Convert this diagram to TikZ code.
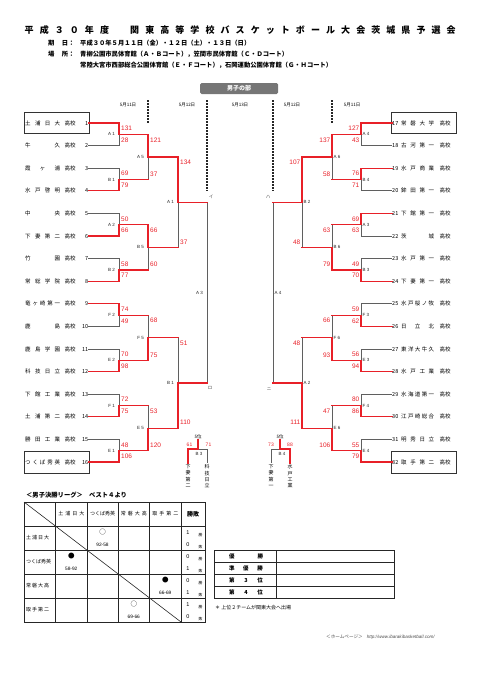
\documentclass[tikz,border=0pt]{standalone}
\usepackage{fontspec}
\setmainfont{Noto Sans CJK JP}
\newfontfamily\latinfont{Liberation Sans}
\usetikzlibrary{calc}

\definecolor{winred}{RGB}{232,32,40}
\definecolor{losegray}{RGB}{95,95,95}
\definecolor{headgray}{RGB}{118,118,118}

\makeatletter
\newcommand\spreadname[2]{\makebox[#1]{\expandafter\@tfor\expandafter\spreadch\expandafter:\expandafter=#2\do{\spreadch\hfill}\unskip}}
\makeatother
\newcommand\leftteam[2]{\spreadname{35pt}{#1}\makebox[20pt]{高校}\makebox[8pt][r]{#2}}
\newcommand\rightteam[2]{\makebox[9pt][l]{#2}\spreadname{33pt}{#1}\makebox[22pt]{高校}}

\tikzset{
  win/.style={draw=winred, line width=1.2pt, line cap=rect},
  lose/.style={draw=losegray, line width=0.7pt},
  team/.style={inner sep=0pt, font=\fontsize{5.5}{6}\selectfont},
  seedbox/.style={draw=black!80, line width=0.9pt},
  score/.style={inner sep=0pt, text=winred, font=\latinfont\fontsize{6.5}{7}\selectfont},
  smallscore/.style={inner sep=0pt, text=winred, font=\latinfont\fontsize{5}{5}\selectfont},
  matchlab/.style={inner sep=0pt, text=black!85, font=\latinfont\fontsize{4.5}{5}\selectfont},
  marktext/.style={inner sep=0pt, text=black!70, font=\fontsize{4.5}{5}\selectfont},
  daytext/.style={inner sep=0pt, font=\fontsize{4.5}{5}\selectfont},
  daysep/.style={draw=black!85, line width=1.3pt, dash pattern=on 2pt off 1pt},
  titletext/.style={inner sep=0pt, font=\bfseries\fontsize{9}{9}\selectfont},
  infotext/.style={inner sep=0pt, font=\bfseries\fontsize{6.3}{7}\selectfont},
  division/.style={fill=headgray, rounded corners=1.5pt, text=white, inner sep=0pt,
    minimum width=78pt, minimum height=11pt, font=\bfseries\fontsize{6}{6}\selectfont},
  vname/.style={inner xsep=0pt, inner ysep=1.5pt, align=center, font=\fontsize{5}{6.3}\selectfont},
  tablegrid/.style={draw=black!85, line width=0.7pt},
  cell/.style={inner sep=0pt, font=\fontsize{5}{5}\selectfont},
  resmark/.style={inner sep=0pt, font=\fontsize{6.5}{6.5}\selectfont},
  resscore/.style={inner sep=0pt, font=\latinfont\fontsize{4.8}{5}\selectfont},
  tinytext/.style={inner sep=0pt, font=\fontsize{3.8}{4}\selectfont},
  ranktext/.style={inner sep=0pt, font=\bfseries\fontsize{5.5}{6}\selectfont},
}

\begin{document}
\begin{tikzpicture}[x=1pt, y=-1pt]
\useasboundingbox (0,0) rectangle (481,680);

\node[titletext, anchor=west] (title) at (24.5,30) {\spreadname{431pt}{平成３０年度　関東高等学校バスケットボール大会茨城県予選会}};
\node[infotext, anchor=west] (datehead) at (48,43) {期\hspace{7.5pt}日：};
\node[infotext, anchor=west] (dates) at (80,43) {平成３０年５月１１日（金）・１２日（土）・１３日（日）};
\node[infotext, anchor=west] (venuehead) at (48,54) {場\hspace{7.5pt}所：};
\node[infotext, anchor=west] (venue1) at (80,54) {青柳公園市民体育館（Ａ・Ｂコート），笠間市民体育館（Ｃ・Ｄコート）};
\node[infotext, anchor=west] (venue2) at (80,65.5) {常陸大宮市西部総合公園体育館（Ｅ・Ｆコート），石岡運動公園体育館（Ｇ・Ｈコート）};

\node[division] (boys) at (239,88.5) {男子の部};
\node[daytext] (dayL1) at (128,104.5) {5月11日};
\node[daytext] (dayL2) at (187,104.5) {5月12日};
\node[daytext] (dayC) at (240,104.5) {5月13日};
\node[daytext] (dayR2) at (292,104.5) {5月12日};
\node[daytext] (dayR1) at (352,104.5) {5月11日};
\coordinate (septop) at (0,100);

\node[team, anchor=west] (t1) at (25,123) {\leftteam{土浦日大}{1}};
\node[team, anchor=west] (t2) at (25,145.6) {\leftteam{牛久}{2}};
\node[team, anchor=west] (t3) at (25,168.2) {\leftteam{霞ヶ浦}{3}};
\node[team, anchor=west] (t4) at (25,190.8) {\leftteam{水戸啓明}{4}};
\node[team, anchor=west] (t5) at (25,213.4) {\leftteam{中央}{5}};
\node[team, anchor=west] (t6) at (25,236) {\leftteam{下妻第二}{6}};
\node[team, anchor=west] (t7) at (25,258.6) {\leftteam{竹園}{7}};
\node[team, anchor=west] (t8) at (25,281.2) {\leftteam{常総学院}{8}};
\node[team, anchor=west] (t9) at (25,303.8) {\leftteam{竜ヶ崎第一}{9}};
\node[team, anchor=west] (t10) at (25,326.4) {\leftteam{鹿島}{10}};
\node[team, anchor=west] (t11) at (25,349) {\leftteam{鹿島学園}{11}};
\node[team, anchor=west] (t12) at (25,371.6) {\leftteam{科技日立}{12}};
\node[team, anchor=west] (t13) at (25,394.2) {\leftteam{下館工業}{13}};
\node[team, anchor=west] (t14) at (25,416.8) {\leftteam{土浦第二}{14}};
\node[team, anchor=west] (t15) at (25,439.4) {\leftteam{勝田工業}{15}};
\node[team, anchor=west] (t16) at (25,462) {\leftteam{つくば秀英}{16}};

\node[team, anchor=west] (t17) at (392,123) {\rightteam{常磐大学}{17}};
\node[team, anchor=west] (t18) at (392,145.6) {\rightteam{古河第一}{18}};
\node[team, anchor=west] (t19) at (392,168.2) {\rightteam{水戸商業}{19}};
\node[team, anchor=west] (t20) at (392,190.8) {\rightteam{鉾田第一}{20}};
\node[team, anchor=west] (t21) at (392,213.4) {\rightteam{下館第一}{21}};
\node[team, anchor=west] (t22) at (392,236) {\rightteam{茨城}{22}};
\node[team, anchor=west] (t23) at (392,258.6) {\rightteam{水戸第一}{23}};
\node[team, anchor=west] (t24) at (392,281.2) {\rightteam{下妻第一}{24}};
\node[team, anchor=west] (t25) at (392,303.8) {\rightteam{水戸桜ノ牧}{25}};
\node[team, anchor=west] (t26) at (392,326.4) {\rightteam{日立北}{26}};
\node[team, anchor=west] (t27) at (392,349) {\rightteam{東洋大牛久}{27}};
\node[team, anchor=west] (t28) at (392,371.6) {\rightteam{水戸工業}{28}};
\node[team, anchor=west] (t29) at (392,394.2) {\rightteam{水海道第一}{29}};
\node[team, anchor=west] (t30) at (392,416.8) {\rightteam{江戸崎総合}{30}};
\node[team, anchor=west] (t31) at (392,439.4) {\rightteam{明秀日立}{31}};
\node[team, anchor=west] (t32) at (392,462) {\rightteam{取手第二}{32}};

\draw[seedbox] ($(t1.west)+(-1,-10.5)$) rectangle ($(t1.east)+(1,10.5)$);
\draw[seedbox] ($(t16.west)+(-1,-11)$) rectangle ($(t16.east)+(1,11.5)$);
\draw[seedbox] ($(t17.west)+(-1,-10.5)$) rectangle ($(t17.east)+(0,10.5)$);
\draw[seedbox] ($(t32.west)+(-1,-11)$) rectangle ($(t32.east)+(0,11.5)$);

\coordinate (L1a) at (119,134.3);
\coordinate (L1b) at (119,179.5);
\coordinate (L1c) at (119,224.7);
\coordinate (L1d) at (119,269.9);
\coordinate (L1e) at (119,315.1);
\coordinate (L1f) at (119,360.3);
\coordinate (L1g) at (119,405.5);
\coordinate (L1h) at (119,450.7);
\coordinate (L2a) at (148,156.9);
\coordinate (L2b) at (148,247.3);
\coordinate (L2c) at (148,337.7);
\coordinate (L2d) at (148,428.1);
\coordinate (L3a) at (178,202.1);
\coordinate (L3b) at (178,382.9);
\coordinate (L4) at (207,292.5);
\coordinate (R1a) at (361,134.3);
\coordinate (R1b) at (361,179.5);
\coordinate (R1c) at (361,224.7);
\coordinate (R1d) at (361,269.9);
\coordinate (R1e) at (361,315.1);
\coordinate (R1f) at (361,360.3);
\coordinate (R1g) at (361,405.5);
\coordinate (R1h) at (361,450.7);
\coordinate (R2a) at (332,156.9);
\coordinate (R2b) at (332,247.3);
\coordinate (R2c) at (332,337.7);
\coordinate (R2d) at (332,428.1);
\coordinate (R3a) at (302,202.1);
\coordinate (R3b) at (302,382.9);
\coordinate (R4) at (273,292.5);

\draw[daysep] (septop -| L2a) -- (L2a |- t1);
\draw[daysep] (septop -| L4) -- (L4 |- t4);
\draw[daysep] (septop -| R4) -- (R4 |- t20);
\draw[daysep] (septop -| R2a) -- (R2a |- t17);

\foreach \j/\a/\b/\sa/\sb/\lab/\w/\l in {
  L1a/t1/t2/131/28/A 1/t1/t2, L1b/t3/t4/69/79/B 1/t4/t3,
  L1c/t5/t6/50/66/A 2/t6/t5, L1d/t7/t8/58/77/B 2/t8/t7,
  L1e/t9/t10/74/49/F 2/t9/t10, L1f/t11/t12/70/98/E 2/t12/t11,
  L1g/t13/t14/72/75/F 1/t14/t13, L1h/t15/t16/48/106/E 1/t16/t15}{
  \draw[lose] (\l) -| (\j);
  \draw[win] (\w) -| (\j);
  \node[score, anchor=west] (\j-top) at ($(\j |- \a)+(2,5.5)$) {\sa};
  \node[score, anchor=west] (\j-bot) at ($(\j |- \b)+(2,-5.5)$) {\sb};
  \node[matchlab, anchor=east] (\j-lab) at ($(\j)+(-4,0)$) {\lab};
}
\foreach \j/\a/\b/\sa/\sb/\lab/\w/\l in {
  L2a/L1a/L1b/121/37/A 5/L1a/L1b, L2b/L1c/L1d/66/60/B 5/L1c/L1d,
  L2c/L1e/L1f/68/75/F 5/L1f/L1e, L2d/L1g/L1h/53/120/E 5/L1h/L1g,
  L3a/L2a/L2b/134/37/A 1/L2a/L2b, L3b/L2c/L2d/51/110/B 1/L2d/L2c}{
  \draw[lose] (\j |- \l) -- (\j);
  \draw[win] (\a) -- (\j |- \a);
  \draw[win] (\b) -- (\j |- \b);
  \draw[win] (\j |- \w) -- (\j);
  \node[score, anchor=west] (\j-top) at ($(\j |- \a)+(2,5.5)$) {\sa};
  \node[score, anchor=west] (\j-bot) at ($(\j |- \b)+(2,-5.5)$) {\sb};
  \node[matchlab, anchor=east] (\j-lab) at ($(\j)+(-4,0)$) {\lab};
}
\draw[lose] (L3a -| L4) -- (L3b -| L4);
\draw[win] (L3a) -- (L3a -| L4);
\draw[win] (L3b) -- (L3b -| L4);
\node[matchlab, anchor=east] (L4-lab) at ($(L4)+(-4,0)$) {A 3};
\node[marktext] (markI) at ($(L3a -| L4)+(4,-5)$) {イ};
\node[marktext] (markRo) at ($(L3b -| L4)+(3,5.5)$) {ロ};

\foreach \j/\a/\b/\sa/\sb/\lab/\w/\l in {
  R1a/t17/t18/127/43/A 4/t17/t18, R1b/t19/t20/76/71/B 4/t19/t20,
  R1c/t21/t22/69/63/A 3/t21/t22, R1d/t23/t24/49/70/B 3/t24/t23,
  R1e/t25/t26/59/62/F 3/t26/t25, R1f/t27/t28/56/94/E 3/t28/t27,
  R1g/t29/t30/80/86/F 4/t30/t29, R1h/t31/t32/55/79/E 4/t32/t31}{
  \draw[lose] (\l) -| (\j);
  \draw[win] (\w) -| (\j);
  \node[score, anchor=east] (\j-top) at ($(\j |- \a)+(-1.5,5.5)$) {\sa};
  \node[score, anchor=east] (\j-bot) at ($(\j |- \b)+(-1.5,-5.5)$) {\sb};
  \node[matchlab, anchor=west] (\j-lab) at ($(\j)+(1.5,0)$) {\lab};
}
\foreach \j/\a/\b/\sa/\sb/\lab/\w/\l in {
  R2a/R1a/R1b/137/58/A 6/R1a/R1b, R2b/R1c/R1d/63/79/B 6/R1d/R1c,
  R2c/R1e/R1f/66/93/F 6/R1f/R1e, R2d/R1g/R1h/47/106/E 6/R1h/R1g,
  R3a/R2a/R2b/107/48/B 2/R2a/R2b, R3b/R2c/R2d/48/111/A 2/R2d/R2c}{
  \draw[lose] (\j |- \l) -- (\j);
  \draw[win] (\a) -- (\j |- \a);
  \draw[win] (\b) -- (\j |- \b);
  \draw[win] (\j |- \w) -- (\j);
  \node[score, anchor=east] (\j-top) at ($(\j |- \a)+(-1.5,5.5)$) {\sa};
  \node[score, anchor=east] (\j-bot) at ($(\j |- \b)+(-1.5,-5.5)$) {\sb};
  \node[matchlab, anchor=west] (\j-lab) at ($(\j)+(1.5,0)$) {\lab};
}
\draw[lose] (R3a -| R4) -- (R3b -| R4);
\draw[win] (R3a) -- (R3a -| R4);
\draw[win] (R3b) -- (R3b -| R4);
\node[matchlab, anchor=west] (R4-lab) at ($(R4)+(1.5,0)$) {A 4};
\node[marktext] (markHa) at ($(R3a -| R4)+(-5,-5)$) {ハ};
\node[marktext] (markNi) at ($(R3b -| R4)+(-4,6)$) {ニ};

\node[daytext] (fifthL) at (198,437) {5位};
\coordinate (P5L) at (198,449);
\node[vname, anchor=north] (v6) at (188,463) {下\\妻\\第\\二};
\node[vname, anchor=north] (v12) at (207,463) {科\\技\\日\\立};
\draw[lose] (P5L) -| (v12);
\draw[win] (P5L) -| (v6);
\draw[win] (fifthL) -- (P5L);
\node[smallscore] (fifthL-a) at ($(P5L -| v6)+(1.5,-4)$) {61};
\node[smallscore] (fifthL-b) at ($(P5L -| v12)+(1.5,-4)$) {71};
\node[matchlab] (fifthL-lab) at ($(P5L)+(1,5)$) {B 3};

\node[daytext] (fifthR) at (280,437) {5位};
\coordinate (P5R) at (280,449);
\node[vname, anchor=north] (v24) at (271,463) {下\\妻\\第\\一};
\node[vname, anchor=north] (v28) at (290,463) {水\\戸\\工\\業};
\draw[lose] (P5R) -| (v24);
\draw[win] (P5R) -| (v28);
\draw[win] (fifthR) -- (P5R);
\node[smallscore] (fifthR-a) at ($(P5R -| v24)+(0,-4)$) {73};
\node[smallscore] (fifthR-b) at ($(P5R -| v28)+(0,-4)$) {88};
\node[matchlab] (fifthR-lab) at ($(P5R)+(2,5)$) {B 4};

\node[infotext, anchor=west] (leaguetitle) at (26,495) {＜男子決勝リーグ＞　ベスト４より};
\draw[tablegrid] (24,502) rectangle (205,622);
\foreach \x in {55.5,87,118,149.5,181} \draw[tablegrid] (\x,502) -- (\x,622);
\foreach \y in {526,550,574,598} \draw[tablegrid] (24,\y) -- (205,\y);
\draw[draw=black!85, line width=0.6pt] (24,502) -- (181,622);
\node[cell] (h1) at (71.25,514) {\spreadname{26pt}{土浦日大}};
\node[cell] (h2) at (102.5,514) {つくば秀英};
\node[cell] (h3) at (133.75,514) {\spreadname{26pt}{常磐大高}};
\node[cell] (h4) at (165.25,514) {\spreadname{26pt}{取手第二}};
\node[cell, font=\bfseries\fontsize{6}{6}\selectfont] (h5) at (193,514) {勝敗};
\node[cell, anchor=west] (r1) at (26,538) {\spreadname{23pt}{土浦日大}};
\node[cell, anchor=west] (r2) at (26,562) {つくば秀英};
\node[cell, anchor=west] (r3) at (26,586) {\spreadname{23pt}{常磐大高}};
\node[cell, anchor=west] (r4) at (26,610) {\spreadname{23pt}{取手第二}};
\node[resmark] (m12) at (102.5,532) {○};
\node[resscore] (m12s) at (102.5,544.5) {92-58};
\node[resmark] (m21) at (71.25,556) {●};
\node[resscore] (m21s) at (71.25,568.5) {58-92};
\node[resmark] (m34) at (165.25,580) {●};
\node[resscore] (m34s) at (165.25,592.5) {66-69};
\node[resmark] (m43) at (133.75,604) {○};
\node[resscore] (m43s) at (133.75,616.5) {69-66};
\foreach \r/\y/\wn/\ls in {1/526/1/0, 2/550/0/1, 3/574/0/1, 4/598/1/0}{
  \node[cell, font=\latinfont\fontsize{5.5}{6}\selectfont] (win\r) at (188,\y+6.5) {\wn};
  \node[cell, font=\latinfont\fontsize{5.5}{6}\selectfont] (loss\r) at (188,\y+18.5) {\ls};
  \node[tinytext] (winkey\r) at (200.5,\y+9.5) {勝};
  \node[tinytext] (losskey\r) at (200.5,\y+21) {敗};
}

\draw[tablegrid] (214,550) rectangle (394,598);
\foreach \y in {562,574,586} \draw[tablegrid] (214,\y) -- (394,\y);
\draw[tablegrid] (276,550) -- (276,598);
\node[ranktext] (rank1) at (246,556) {\spreadname{34pt}{優勝}};
\node[ranktext] (rank2) at (246,568) {\spreadname{34pt}{準優勝}};
\node[ranktext] (rank3) at (246,580) {\spreadname{34pt}{第3位}};
\node[ranktext] (rank4) at (246,592) {\spreadname{34pt}{第4位}};
\node[cell, anchor=west] (note) at (215,608) {＊ 上位２チームが関東大会へ出場};
\node[cell, anchor=west, text=black!70, font=\fontsize{4.6}{5}\selectfont] (homepage) at (326,637) {＜ホームページ＞\hspace{4pt}{\latinfont\itshape http://www.ibarakibasketball.com/}};
\end{tikzpicture}
\end{document}
